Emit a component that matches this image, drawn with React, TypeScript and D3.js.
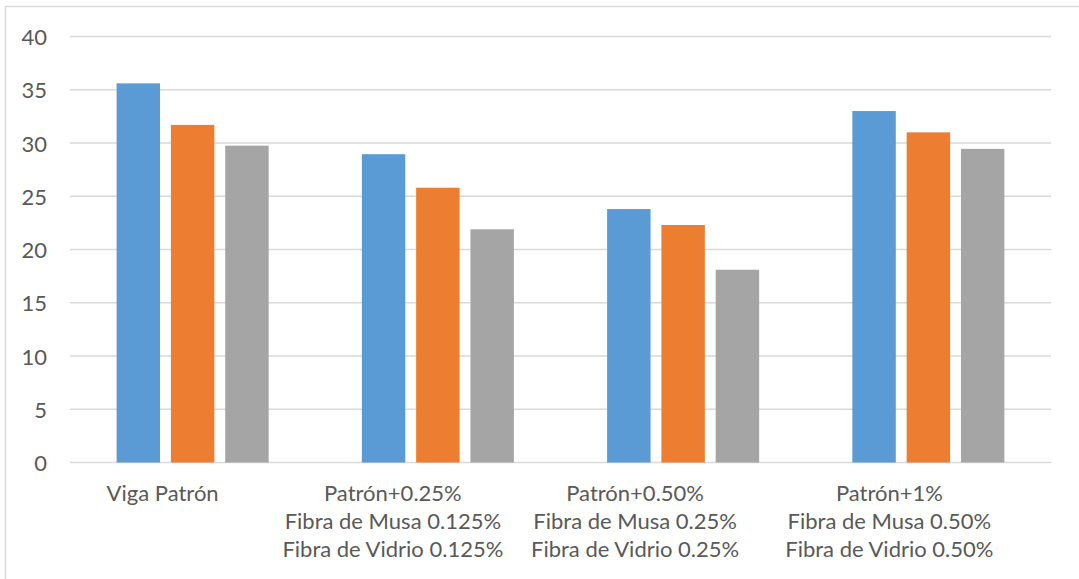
import React from "react";
import * as d3 from "d3";

// Categories (each label is split into lines)
const categories = [
  "Viga Patrón",
  "Patrón+0.25%|Fibra de Musa 0.125%|Fibra de Vidrio 0.125%",
  "Patrón+0.50%|Fibra de Musa 0.25%|Fibra de Vidrio 0.25%",
  "Patrón+1%|Fibra de Musa 0.50%|Fibra de Vidrio 0.50%",
];

const seriesNames = ["Serie 1", "Serie 2", "Serie 3"];
const series1 = [35.6, 31.7, 29.75];
const series2 = [28.95, 25.8, 21.9];
const series3 = [23.8, 22.3, 18.1];
const series4 = [33.0, 31.0, 29.45];
const groupValues = [series1, series2, series3, series4];

const yTicks = [0, 5, 10, 15, 20, 25, 30, 35, 40];
const colors = ["#5B9BD5", "#ED7D31", "#A5A5A5"];

const W = 1079;
const H = 579;
const plot = { left: 70, right: 1051, top: 36.5, bottom: 462.5 };
// horizontal nudge of each category label block
const labelNudge = [-30, -45, -48, -39];
const FONT = "Lato, 'Open Sans', sans-serif";

export default function App() {
  const x0 = d3
    .scaleBand<string>()
    .domain(categories)
    .range([plot.left, plot.right])
    .padding(0);
  const bw = x0.bandwidth();
  const x1 = d3
    .scaleBand<string>()
    .domain(seriesNames)
    .range([bw * 0.19, bw * 0.81])
    .paddingInner(0.2)
    .paddingOuter(0);
  const y = d3.scaleLinear().domain([0, 40]).range([plot.bottom, plot.top]);

  return (
    <svg
      width={W}
      height={H}
      style={{ position: "absolute", left: 0, top: 0, background: "#fff" }}
    >
      <rect x={5.5} y={6.5} width={W} height={H} fill="#fff" stroke="#D9D9D9" strokeWidth={1.5} />
      {yTicks.map((t) => (
        <g key={t}>
          <line
            x1={plot.left}
            x2={plot.right}
            y1={y(t)}
            y2={y(t)}
            stroke="#D9D9D9"
            strokeWidth={1.5}
          />
          <text
            x={47}
            y={y(t)}
            textAnchor="end"
            dominantBaseline="central"
            fontFamily={FONT}
            fontSize={22}
            fill="#595959"
          >
            {t}
          </text>
        </g>
      ))}
      {categories.map((c, ci) => (
        <g key={c} transform={`translate(${x0(c)},0)`}>
          {groupValues[ci].map((v, si) => (
            <rect
              key={si}
              x={x1(seriesNames[si])}
              y={y(v)}
              width={x1.bandwidth()}
              height={y(0) - y(v)}
              fill={colors[si]}
            />
          ))}
        </g>
      ))}
      {categories.map((c, ci) => {
        const cx = (x0(c) as number) + bw / 2 + labelNudge[ci];
        return (
          <text
            key={c}
            textAnchor="middle"
            fontFamily={FONT}
            fontSize={22}
            fill="#595959"
          >
            {c.split("|").map((line, li) => (
              <tspan key={li} x={cx} y={500.5 + li * 28.3}>
                {line}
              </tspan>
            ))}
          </text>
        );
      })}
    </svg>
  );
}
